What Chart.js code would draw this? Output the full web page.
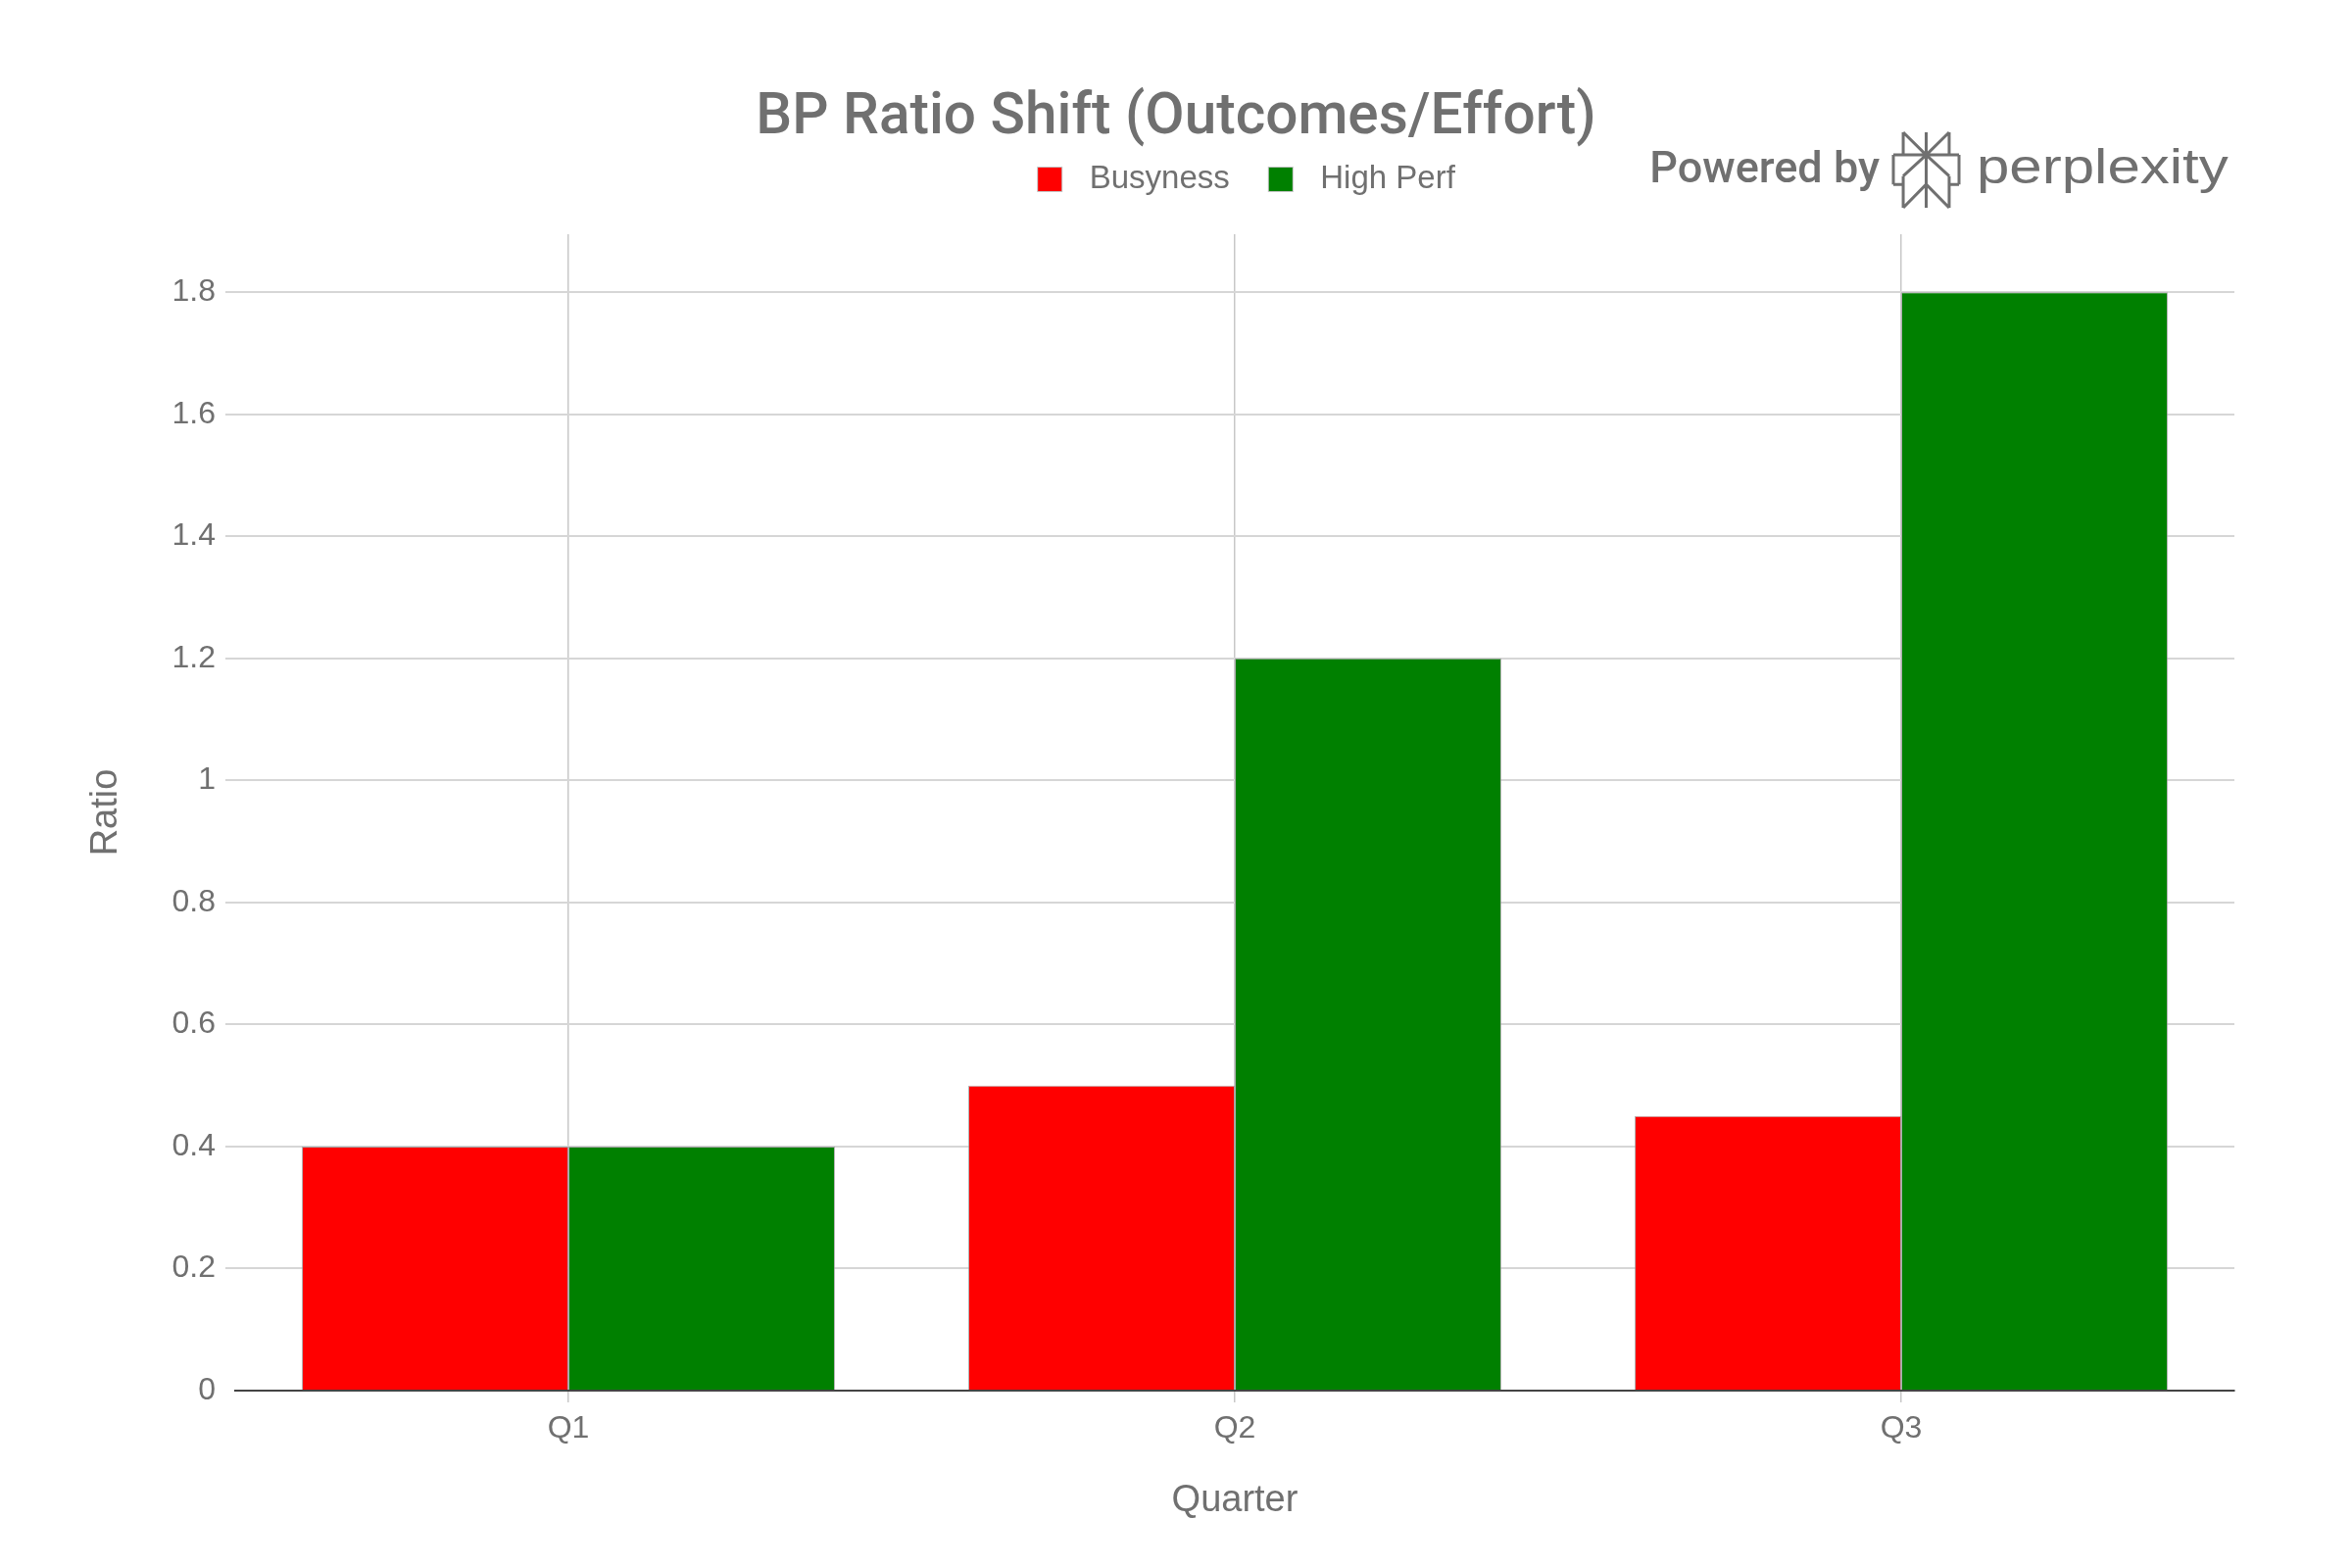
<!DOCTYPE html>
<html>
<head>
<meta charset="utf-8">
<script src="https://cdn.jsdelivr.net/npm/chart.js@4.4.1/dist/chart.umd.min.js"></script>
<style>
  html, body { margin: 0; padding: 0; background: #fff; }
  #wrap { width: 2400px; height: 1600px; }
</style>
</head>
<body>
<div id="wrap"><canvas id="bpChart" width="2400" height="1600"></canvas></div>
<script>
const quarters = ['Q1', 'Q2', 'Q3'];
const busyness = [0.4, 0.5, 0.45];
const highPerf = [0.4, 1.2, 1.8];
const yTicks = [0, 0.2, 0.4, 0.6, 0.8, 1, 1.2, 1.4, 1.6, 1.8];
const yMax = 1.895;

const gray = '#707070';
const fontFamily = "'Liberation Sans', Arial, sans-serif";
const headFamily = "Roboto, 'Liberation Sans', sans-serif";

// legend swatch: a square with empty room on both sides (to space it like the original)
function swatch(color) {
  const c = document.createElement('canvas');
  c.width = 60; c.height = 26;
  const g = c.getContext('2d');
  g.fillStyle = color;
  g.fillRect(24, 1, 24, 24);
  g.strokeStyle = '#c4c4c4';
  g.lineWidth = 1;
  g.strokeRect(23.5, 0.5, 25, 25);
  return c;
}
const swatches = [swatch('#ff0000'), swatch('#008000')];

// "Powered by perplexity" mark, top right
const poweredBy = {
  id: 'poweredBy',
  afterDraw(chart) {
    const ctx = chart.ctx;
    ctx.save();
    ctx.fillStyle = gray;
    ctx.textBaseline = 'alphabetic';
    ctx.textAlign = 'right';
    ctx.font = '500 45px ' + headFamily;
    ctx.fillText('Powered by', 1918, 186);

    // wide wordmark
    ctx.save();
    ctx.translate(2017, 187);
    ctx.scale(1.2, 1);
    ctx.textAlign = 'left';
    ctx.font = '50px ' + fontFamily;
    ctx.fillText('perplexity', 0, 0);
    ctx.restore();

    const x0 = 1932, y0 = 135, w = 67, h = 77;
    const segs = [
      [0.5, 0, 0.5, 1],
      [0.15, 0, 0.15, 0.3], [0.85, 0, 0.85, 0.3],
      [0.15, 0, 0.5, 0.3], [0.85, 0, 0.5, 0.3],
      [0, 0.3, 1, 0.3],
      [0, 0.3, 0, 0.69], [1, 0.3, 1, 0.69],
      [0, 0.69, 0.15, 0.69], [0.85, 0.69, 1, 0.69],
      [0.5, 0.3, 0.15, 0.58], [0.5, 0.3, 0.85, 0.58],
      [0.15, 0.58, 0.15, 1], [0.85, 0.58, 0.85, 1],
      [0.15, 1, 0.5, 0.69], [0.85, 1, 0.5, 0.69]
    ];
    ctx.strokeStyle = gray;
    ctx.lineWidth = 3;
    ctx.beginPath();
    segs.forEach(([a, b, c, d]) => {
      ctx.moveTo(x0 + a * w, y0 + b * h);
      ctx.lineTo(x0 + c * w, y0 + d * h);
    });
    ctx.stroke();
    ctx.restore();
  }
};

const canvas = document.getElementById('bpChart');
const bpChart = new Chart(canvas, {
  type: 'bar',
  data: {
    labels: quarters,
    datasets: [{
      label: 'Busyness',
      data: busyness,
      backgroundColor: '#ff0000',
      borderColor: 'rgba(150,150,150,0.7)',
      borderWidth: 1
    }, {
      label: 'High Perf',
      data: highPerf,
      backgroundColor: '#008000',
      borderColor: 'rgba(150,150,150,0.7)',
      borderWidth: 1
    }]
  },
  options: {
    responsive: false,
    devicePixelRatio: 1,
    animation: false,
    layout: { padding: 0 },
    datasets: { bar: { categoryPercentage: 0.8, barPercentage: 1.0 } },
    plugins: {
      title: {
        display: true,
        text: 'BP Ratio Shift (Outcomes/Effort)',
        color: gray,
        font: { family: headFamily, size: 58.5, weight: '500', lineHeight: 1.0 },
        padding: { top: 92, bottom: 0 }
      },
      legend: {
        display: true,
        position: 'top',
        fullSize: false,
        labels: {
          color: gray,
          font: { family: fontFamily, size: 33 },
          padding: 16,
          usePointStyle: true,
          pointStyleWidth: 60,
          generateLabels(chart) {
            const items = Chart.defaults.plugins.legend.labels.generateLabels(chart);
            items.forEach((it, i) => { it.pointStyle = swatches[i]; });
            return items;
          }
        }
      },
      tooltip: { enabled: false }
    },
    scales: {
      x: {
        type: 'category',
        position: 'bottom',
        offset: true,
        grid: {
          display: true,
          offset: false,
          color: '#c8c8c8',
          lineWidth: 1.5,
          drawTicks: true,
          tickLength: 12
        },
        border: { display: true, color: '#444444', width: 2 },
        ticks: {
          color: gray,
          font: { family: fontFamily, size: 32 },
          padding: 8,
          maxRotation: 0
        },
        title: {
          display: true,
          text: 'Quarter',
          color: gray,
          font: { family: fontFamily, size: 38 },
          padding: { top: 0, bottom: 46 }
        },
        afterFit(scale) { scale.height = 181; }
      },
      xTop: {
        type: 'category',
        position: 'top',
        labels: quarters,
        display: true,
        grid: { display: false },
        border: { display: false },
        ticks: { display: false },
        afterFit(scale) { scale.height = 29.5; }
      },
      y: {
        type: 'linear',
        min: 0,
        max: yMax,
        afterBuildTicks(scale) { scale.ticks = yTicks.map(v => ({ value: v })); },
        grid: {
          color: ctx => (ctx.tick && ctx.tick.value === 0 ? 'rgba(0,0,0,0)' : '#d6d6d6'),
          lineWidth: 2,
          drawTicks: true,
          tickLength: 10
        },
        border: { display: false },
        ticks: {
          color: gray,
          font: { family: fontFamily, size: 32 },
          padding: 10,
          callback: v => String(v)
        },
        title: {
          display: true,
          text: 'Ratio',
          color: gray,
          font: { family: fontFamily, size: 38 },
          padding: { top: 86, bottom: 0 }
        },
        afterFit(scale) { scale.width = 240; }
      },
      yRight: {
        type: 'linear',
        position: 'right',
        display: true,
        grid: { display: false },
        border: { display: false },
        ticks: { display: false },
        afterFit(scale) { scale.width = 120; }
      }
    }
  },
  plugins: [poweredBy]
});
</script>
</body>
</html>
